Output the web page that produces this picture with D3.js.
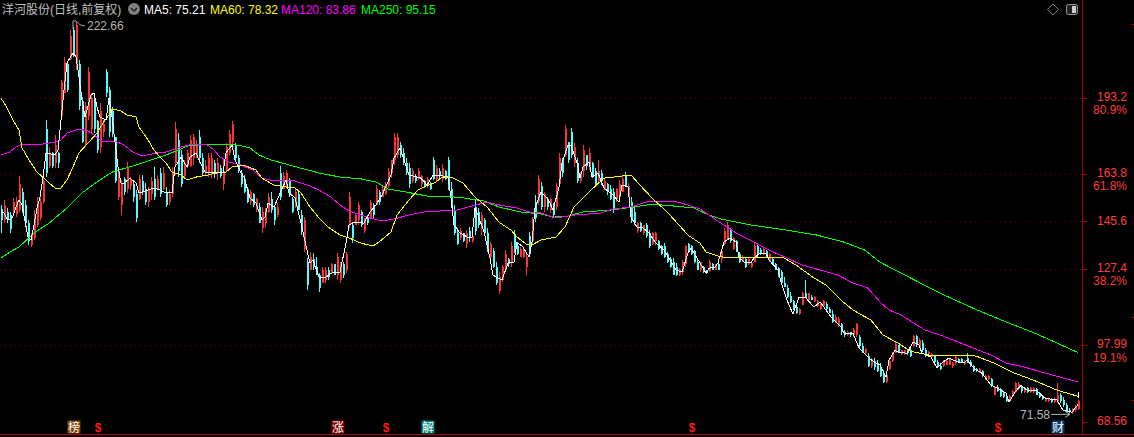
<!DOCTYPE html>
<html>
<head>
<meta charset="utf-8">
<title>洋河股份</title>
<script src="https://cdn.jsdelivr.net/npm/d3@7"></script>
<style>
html, body { margin: 0; padding: 0; background: #000; overflow: hidden; }
svg { display: block; }
text { font-family: "Liberation Sans", "Noto Sans CJK SC", sans-serif; font-size: 12px; }
</style>
</head>
<body>
<div id="chart"></div>
<script>
// daily bars, oldest first
const highs = [
  151.9,153.8,150.7,149.2,154.6,154.9,163,158.4,153.8,146.1,
  139.6,149.9,154.9,154.6,162.6,184.5,174.2,172.2,178.8,172.2,
  199.9,208.8,206.9,219.2,220.3,222.66,207.6,193.4,191.5,204.9,
  194.9,193.4,184.5,191.1,184.5,204.2,197.2,189.5,178,166.5,
  161.5,162.6,168.4,162.6,161.5,157.6,163.4,163.4,160.3,158.8,
  162.6,166.5,163.4,166.1,166.5,158.8,157.6,166.5,183.8,179.5,
  173,169.2,173,178.8,179.2,176.9,180.7,171.9,169.2,171.9,
  171.9,169.2,170,167.2,169.2,175.7,180.7,184.2,175.7,171.1,
  165.3,163.4,158.8,157.6,156.5,154.6,152.6,151.1,150.7,156.5,
  156.9,151.9,152.6,166.9,164.5,165.3,162.2,154.9,158.4,157.6,
  149.9,147.2,131.5,133.8,133.4,131.9,125.7,128,128,128,
  129.6,128.8,133.4,130,130,133.8,156.9,145.3,148.8,153,
  150,146.9,148,153.8,152.6,159.5,157.6,159.5,160.7,166.1,
  169.2,179.5,179.5,176.1,173.8,169.9,168,166.1,163.8,166.1,
  163.4,161.5,162.6,160.7,170.3,167.2,166,167.6,165.3,170.3,
  160.7,151.9,143,143,141.1,142.2,143.4,141.1,153.8,150.7,
  149.2,146.9,143,137.6,135.3,130,126.1,128.8,134.5,131.5,
  137.6,142.2,137.6,135.7,135.3,133.4,141.5,147.2,155.7,163.4,
  160.7,156.9,154.9,154.5,152.6,160.3,171.9,169.9,182.6,176.1,
  181.5,175.7,169.9,164.5,174.9,171.1,173.8,168.4,166.1,169.2,
  165.3,162.2,160.3,159.5,158.4,158.4,161.5,163.4,164.5,160.3,
  154.9,151.1,145.3,145.3,144.2,144.9,142.2,141.5,141.5,138.4,
  136.5,137.2,133.8,131.9,131.5,129.6,127.6,130.7,136.5,137.2,
  136.5,134.5,131.5,130,128.4,126.9,130.7,129.6,129.1,129.9,
  134.5,143,145.3,143,139.6,138.4,133.8,132.6,131.9,131.5,
  129.9,137.2,136.5,135.3,135.3,134.5,133.4,131.9,129.6,128,
  126.9,124.2,121.1,118.4,115.3,113,112.2,118.4,123,118,
  117.2,116.9,115.3,114.2,115.3,114.6,112.6,111.5,109.5,108.8,
  106.5,103.8,103.4,103,104.6,106.5,101.9,98.8,96.9,94.9,
  93,93,92.2,91.1,88.4,87.2,92.2,95.3,99.2,98,
  96.1,96.1,96.1,97.2,101.9,101.9,100.7,99.9,96.9,95.7,
  94.9,94.2,92.2,91.1,92.2,92.2,93,91.5,94.2,93,
  93,92.2,95,92.2,90.3,89.2,89.2,88.4,86.5,86.5,
  85.3,81.9,82.6,81.5,80.3,78.8,78.8,80.7,83.8,83.8,
  82.6,81.5,81.9,81.9,81.9,81.5,80,78.8,78,77.6,
  77.6,77.9,83.4,79.6,78,75.7,73.8,73.8,75,76.9
];
const lows = [
  141.1,144.9,144.9,141.1,148,147.2,149.2,148.8,143.4,136.5,
  135.7,138.4,143.4,146.1,152.6,162.6,166.1,166.1,166.1,166.1,
  184.5,194.9,195.3,207.6,208.8,203.8,188.4,175.7,174.2,184.5,
  179.5,179.5,171.9,171.9,178,193.4,178,178,160.3,153.8,
  148,155.7,156.5,157.6,153,145.3,153.8,155.7,151.9,151.1,
  153.8,153.8,157.6,154.9,157.6,151.1,151.9,154.9,167.2,162.6,
  158.8,162.2,166.1,166.5,167.2,170,168,163.4,163,162.6,
  162.2,162.2,161.5,162.2,157.6,164.5,171.1,174.2,169.2,164.2,
  158.8,156.5,152.6,151.9,151.1,149.2,144.9,141.1,143.4,148.8,
  148.8,144.2,147.2,153.8,158.4,158.4,154.9,148.8,150.7,149.9,
  140.3,133.8,119.2,128,126.9,124.9,118.4,121.9,121.9,123,
  125.7,124.9,123,121.9,123.8,125.7,143,137.2,144.2,144.2,
  143.4,141.1,144.2,146.9,146.9,151.9,151.9,154.9,155.7,158.4,
  162.2,167.2,169.9,169.9,167.2,163.4,158.4,160.3,160.3,161.5,
  158.8,158.4,158.4,157.6,161.5,160.7,162.2,160.7,161.5,157.6,
  150.7,140.3,136.5,138.4,137.6,135.3,137.6,137.2,140.3,143,
  140.3,140.3,133.8,130.7,127.6,121.1,117.6,122.2,126.1,128,
  128,133.4,132.6,131.9,131.5,124.9,131.9,136.5,145.3,151.9,
  149.9,149.2,149.9,148.8,147.2,149.9,159.5,162.6,170.3,168,
  169.9,166.5,160.3,160.3,162.6,165.3,165.3,162.2,158.8,160.3,
  159.5,157.6,155.7,153.8,148.8,153,154.5,156.9,158.8,154.9,
  144.9,144.2,141.1,141.5,140.3,139.2,135.3,136.5,136.5,134.5,
  132.6,131.5,129.6,127.6,124.9,124.5,124.5,124.9,128,133.4,
  132.6,129.6,126.9,126.1,125.7,125.3,126.1,126.9,126.9,126.9,
  129.6,136.5,138.4,137.2,134.5,133.8,129.6,129.9,127.6,128.8,
  127.6,129.9,131.9,132.6,132.6,131.5,129.9,128.8,126.9,124.2,
  121.9,120.3,116.1,114.2,111.5,109.9,109.6,113.4,116.5,115.3,
  115.3,114.6,112.6,111.5,112.6,111.1,110.3,106.5,106.5,104.9,
  101.9,101.1,101.5,101.1,101.1,101.1,96.9,94.9,94.2,89.6,
  89.2,88.4,87.6,85.7,83.4,83.4,88.4,91.5,94.9,94.9,
  94.2,94.2,94.2,93.4,97.2,97.2,96.9,95.3,93.4,94.2,
  93,91.1,89.2,88.4,89.6,90.3,90.3,89.2,90.3,91.1,
  91.1,90.3,91.1,89.6,87.6,87.6,87.2,85.7,84.6,84.6,
  81.9,78.8,80,78,77.6,76.1,76.1,78,79.6,80.7,
  79.6,79.6,79.6,79.6,79.6,78.8,77.6,76.9,76.1,76.1,
  75.7,75.7,75.7,75.7,74.2,72.2,71.9,71.58,72.2,73
];
const opens = [
  150.5,146,149,148,149,148.5,150,157,152,145,
  136.5,139,144,147,153,181,167,172,168,172,
  186,195,206,208,219,204,206,192,175,186,
  181,192,184,174,180,203,196,188,178,155,
  152,162,158,159,160,156,154,161,158,153,
  156,162,158,164,158,157,153,156,168,177,
  171,163,167,167,170,171,178,170,164,164,
  164,168,164,166,160,165,172,176,175,170,
  164,162,158,153,156,150,151,143,145,149,
  154,151,148,164,158,159,161,154,151,156,
  148,135,130,127,131,128,125,122,123,127,
  126,129,125,123,129,127,144,144,144,146,
  149,142,147,147,152,152,157,155,156,159,
  164,169,171,175,172,168,166,161,163,162,
  160,161,159,160,169,162,165,162,165,169,
  158,150,141,139,141,137,142,138,151,149,
  143,146,141,132,134,128,119,123,127,131,
  130,140,136,132,132,128,140,138,153,153,
  159,151,154,150,152,151,160,169,171,176,
  180,168,168,161,165,171,166,168,165,161,
  164,158,160,158,157,154,155,157,163,155,
  153,149,142,145,141,144,141,137,138,138,
  136,136,133,131,130,128,125,126,129,137,
  136,134,130,127,128,127,126.5,129,127,129,
  131,137,139,142,135,138,133,130,131,129,
  128,130,136,134.5,133,134,130.5,131,129,127.5,
  126,122,120,117,115,112.5,110,113.5,118,115.5,
  116.5,115,113,112,113,114,112,110,107,105.5,
  106,103,102,103,102,102,101,97.5,95,94,
  90,92,91,89,87,84,89,92,95,98,
  94.5,94.5,96,96,97.5,101.5,97,99,96,94.5,
  93.5,94,91.5,90,90,90.5,90.5,90,91,92.5,
  92.5,90.8,93,91.5,89.8,89,87.8,88,85,85,
  85,79,82,81,80,78.5,76.5,78.5,80,81,
  82,79.8,81.5,80,80,81,79.5,78.5,76.5,76.5,
  77,76,76,79,77,75,73.2,72.2,73,73.5
];
const closes = [
  146,152,146,142.5,153,153.5,160,150,145,138,
  141,148,153,153,161,164,172,167,175,168,
  199,207,196,217,209,221,190,176,190,203,
  193,181,173,188,183,195,180,179,161,165,
  160,157,166,162,155,147,162,157,153,158,
  161,155,162,156,164,152,156,165,181,165,
  160,168,172,177,178,175,170,164,167,170,
  170,164,168,163,165,174,179,183,170,165,
  160,157,153,157,152,154,145,149,150,155,
  150,146,151,155,163,164,156,149,157,150,
  142,146,121,132,128,125,120,127,127,124,
  129,125,132,128,125,133,155,139,148,152,
  144,147,145,153,148,158,153,158,160,165,
  169,178,178,171,168,164,160,165,161,165,
  163,159,162,158,162,166,163,166,162,158,
  151,141,137,142,138,141,139,140,142,144,
  148,141,135,137,128,122,124,128,133,129,
  136,134,133,135,134,132,133,146,147,162,
  151,156,151,154,148,159,170,164,181,169,
  171,174,161,164,173,167,172,163,160,165,
  161,161,157,154,150,158,160,162,159,159,
  146,145,145,142,144,140,136,141,141,135,
  133,132,130,128,125,125,127,130,136,134,
  133,130,127,130,126,125.6,130,127,129,127,
  134,142,144,138,139,134,130,132,128,131,
  129.5,136,132.5,133,135,132,133,129,127,124.5,
  122,120.5,116.5,114.5,112,110.5,112,118,116,118,
  115.5,116.5,115,114,115,112,110.5,107,109,108,
  103,102,103,101.8,104,106,97.5,95.5,96.5,90,
  92.5,89.5,88,86,84,86.5,92,95,98.5,95.5,
  96,96,95,94,101.5,98,100,96,94,95.5,
  94.5,91.5,89.8,88.8,92,91.8,92.5,91,93.5,91.5,
  91.5,91.8,91.5,90,88,88,89,86,86,86,
  82.5,81.5,80.5,78.5,78,76.5,78.5,80.5,83.5,83,
  80.3,81,80,81.5,81.5,79,78,77.2,77.8,77.5,
  76,77,79,76.5,75,72.8,72.4,73.2,74.5,76.5
];

// moving averages, read at the bars listed beside each
const ma5Bars = [0,1,2,3,4,5,6,7,9,10,11,12,13,14,15,18,19,20,21,22,24,25,26,27,28,30,31,32,33,35,36,37,39,40,41,43,45,46,49,51,53,55,57,58,60,
  62,63,65,66,68,71,74,75,77,78,80,81,83,85,87,88,89,91,94,95,96,98,100,102,103,104,106,108,110,113,115,116,118,
  121,123,125,127,130,131,133,134,136,140,142,144,146,149,150,151,153,156,157,158,159,161,163,164,167,169,171,172,174,176,177,178,
  180,182,183,184,186,187,189,190,192,193,194,196,197,199,201,204,206,207,209,210,212,214,216,218,221,223,225,227,229,230,233,235,236,238,239,
  241,243,245,246,248,250,251,253,255,256,259,260,262,264,266,268,271,273,275,277,280,281,284,286,289,291,293,295,296,298,299,
  302,304,306,307,310,312,314,316,319,321,322,325,327,330,332,335,336,338,340,342,345,348,352,354,357,359];
const ma5 = [149.2,148.8,146.5,146.1,147.6,151.1,153.8,151.9,139.5,138.4,144.2,150.7,154.9,162.6,171.9,171.1,173,184.5,196.1,206.5,210.3,208.8,201.1,192.2,185.7,194.2,194.9,189.5,185.7,184.5,193,185.7,166.5,160.3,160.3,162.2,160.3,156.5,157.6,158.4,157.6,156.5,156.5,166.5,170.3,
  166.5,170.3,171.9,169.2,164.5,164.2,164.5,171.9,174.9,169.2,164.2,162.6,154.6,152.6,146.1,147.2,152.6,151.1,158.8,161.5,156.5,154.6,144.9,134.5,129.5,130.7,124.2,123.8,125.7,126.1,137.2,144.2,145.3,
  144.9,149.2,151.9,155.7,163.4,169.9,173.8,170.3,163.4,162.2,159.5,163.4,163.4,162.6,154.6,144.2,141.1,139.2,139.6,150.7,148,141.5,131.5,124.9,123,129.6,129.9,137.6,135.7,131.9,137.6,150.7,
  156.9,154.6,152.6,149.9,158.8,168,174.9,174.9,168,162.2,166.5,168.4,162.6,164.2,158.4,155.7,153,159.5,158.8,147.2,143.4,143,141.1,137.6,134.5,130.7,126.9,126.1,133.4,135.3,129.6,125.7,127.6,128,129.6,
  137.6,139.2,137.6,131.9,129.6,129.6,131.5,133.4,133.4,130.7,126.9,122.2,115.3,109.9,116.5,116.5,112.6,114.6,111.5,108.4,104.9,102.6,102.6,96.9,93.4,91.5,90.3,85.7,92.2,96.1,95.3,
  94.9,99.2,98,94.9,93.4,89.2,91.5,93,91.5,91.1,92.2,88.4,87.2,82.6,81.5,79.6,76.1,79.9,82.6,80.7,80.7,77.6,76.9,73,72.2,75.21];

const ma60Bars = [0,2,4,6,7,10,12,14,16,18,20,22,24,26,29,32,34,36,37,40,42,45,46,49,51,53,55,57,60,62,65,69,72,75,77,81,85,87,91,95,98,100,103,106,109,113,116,120,
  124,126,130,132,136,139,141,145,147,150,154,158,162,166,170,172,175,177,180,
  185,188,191,196,201,204,207,210,213,217,222,226,229,233,235,240,
  251,261,265,271,275,280,284,290,294,299,303,311,319,325,331,337,344,352,359];
const ma60 = [193,189.2,184.5,180.7,173.8,168,164.5,162.6,160.3,158.4,158.4,161.5,166.5,171.9,175.7,179.5,183.4,186.5,188.8,188,186.5,185.7,181.9,176.9,173,170.3,168,164.5,163.4,161.5,162.6,163.4,164.2,164.5,166.5,167.2,165.3,162.2,159.5,158.8,158.4,156.5,151.1,146.9,143.4,140.3,139.2,137.2,
  136.1,137.6,141.5,148,153.8,157.6,158.8,160.7,162.6,162.6,160.3,154.9,151.1,145.3,142.2,139.6,136.9,136.5,138.4,
  139.6,143.4,151.1,156.9,162.2,162.6,163,163.4,159.5,154.6,149.2,144.2,140.3,137.2,133.8,131.9,
  131.5,131.5,128.8,123.8,121.1,115.3,111.5,107.6,101.9,98.8,95.7,93.8,94.2,93.8,91.1,87.6,84.6,80.7,78.32];

const ma120Bars = [0,3,5,7,14,18,20,22,26,29,31,34,38,41,44,47,52,55,60,64,69,71,73,76,80,84,87,91,98,103,106,110,113,116,120,
  123,127,131,136,141,147,152,157,162,166,172,176,180,
  185,191,200,204,210,215,221,224,229,233,236,240,
  245,251,256,262,267,273,279,284,289,293,296,300,308,313,319,324,330,335,341,347,353,359];
const ma120 = [171.1,172.2,174.2,175.3,175.3,176.1,176.9,179.5,181.1,180.3,178.8,176.1,176.5,174.9,172.2,170.7,171.9,172.2,174.2,175.3,174.9,173,170.3,168.4,167.2,165.3,162.2,161.1,161.1,159.2,157.6,154.9,151.9,149.6,148,
  146.9,145.7,146.5,148,149.2,149.6,149.9,151.5,153,151.9,150.7,149.2,148.8,
  146.9,148,148.8,150.3,151.1,153,153.4,153.4,151.9,150.3,148,144.9,
  141.1,137.6,134.5,131.5,128.8,126.9,124.9,121.9,119.9,114.6,111.5,109.6,103.8,101.9,99.2,96.9,94.2,91.1,89.6,87.6,85.7,83.86];

const ma250Bars = [0,3,6,11,16,22,27,32,37,44,50,55,60,62,69,79,83,86,90,95,101,106,113,120,
  125,129,135,142,148,154,161,166,173,180,
  184,189,194,203,211,217,224,231,236,240,
  250,262,272,281,288,293,300,313,324,335,342,346,352,359];
const ma250 = [131.5,133.8,135.7,141.1,144.9,150.7,156.5,160.7,164.5,166.9,169.2,171.1,173.4,174.5,175.3,174.9,173.8,171.1,169.2,167.6,165.7,164.2,162.6,161.9,
  160.7,158,156.9,155.3,155.3,154.6,153.4,151.1,149.2,148.4,
  147.2,147.6,149.2,149.9,151.1,152.2,151.5,150.7,148,146.5,
  144.2,142.2,140.3,137.6,134.5,129.9,125.7,118,112.2,106.9,103.8,101.9,98.8,95.15];

const maNames = ["MA5", "MA60", "MA120", "MA250"];
const maLast = ["75.21", "78.32", "83.86", "95.15"];
// white stub at the end of the last bar
const lastStub = [77.6, 79.9];

const tickValues = [193.2, 163.8, 145.6, 127.4, 97.99, 68.56];
const tickLabels = ["193.2", "163.8", "145.6", "127.4", "97.99", "68.56"];
const gridValues = [193.2, 163.8, 145.6, 127.4, 97.99];
const goldValues = [193.2, 163.8, 127.4, 97.99];
const goldLabels = ["80.9%", "61.8%", "38.2%", "19.1%"];
const edgeTicks = [221.5, 108.8, 76.9];

const markerBars = [24, 32, 112, 128, 142, 230, 332, 352];
const markerTexts = ["榜", "$", "涨", "$", "解", "$", "$", "财"];
const markerFills = ["#804000", null, "#800000", null, "#008080", null, null, "#0a3a70"];

const maxBar = 25, maxValue = 222.66;
const minBar = 357, minValue = 71.58;

const width = 1134, height = 437;
const axisX = 1082, bottomY = 434;
const upColor = "#ff3232", downColor = "#54fcfc", axisColor = "#b00000", labelColor = "#ff3c3c", noteColor = "#b4b4b4";
const maColors = ["#ffffff", "#ffff00", "#ff00ff", "#00ff00"];

const x = d3.scaleLinear().domain([0, 359]).range([1, 1078]);
const y = d3.scaleLinear().domain([68.56, 193.2]).range([421.7, 97.5]);

const svg = d3.select("#chart").append("svg")
    .attr("width", width)
    .attr("height", height)
    .style("background", "#000");

// dotted price levels
svg.append("g").attr("shape-rendering", "crispEdges").selectAll("line")
    .data(gridValues)
    .join("line")
    .attr("x1", 0)
    .attr("x2", axisX)
    .attr("y1", d => Math.round(y(d)) + 0.5)
    .attr("y2", d => Math.round(y(d)) + 0.5)
    .attr("stroke", "#800000")
    .attr("stroke-dasharray", "1,4");

// candles
const candles = svg.append("g").attr("shape-rendering", "crispEdges")
    .selectAll("g")
    .data(d3.range(closes.length))
    .join("g")
    .attr("stroke", i => closes[i] >= opens[i] ? upColor : downColor)
    .attr("fill", i => closes[i] >= opens[i] ? upColor : downColor);

candles.append("line")
    .attr("x1", i => x(i) + 0.5)
    .attr("x2", i => x(i) + 0.5)
    .attr("y1", i => y(highs[i]))
    .attr("y2", i => y(lows[i]));

candles.append("rect")
    .attr("stroke", "none")
    .attr("x", i => x(i) - 0.5)
    .attr("width", 2)
    .attr("y", i => y(Math.max(opens[i], closes[i])))
    .attr("height", i => Math.max(1, Math.abs(y(opens[i]) - y(closes[i]))));

// moving averages, long ones first
const maLine = d3.line().x(d => x(d[0])).y(d => y(d[1]));
[[ma250Bars, ma250, 3], [ma120Bars, ma120, 2], [ma60Bars, ma60, 1], [ma5Bars, ma5, 0]].forEach(([bars, vals, k]) => {
    svg.append("path")
        .attr("d", maLine(d3.zip(bars, vals)))
        .attr("fill", "none")
        .attr("stroke", maColors[k])
        .attr("stroke-width", 1)
        .attr("shape-rendering", "crispEdges");
});

svg.append("line")
    .attr("x1", x(359) + 0.5).attr("x2", x(359) + 0.5)
    .attr("y1", y(lastStub[0])).attr("y2", y(lastStub[1]))
    .attr("stroke", "#fff")
    .attr("shape-rendering", "crispEdges");

// right axis
svg.append("line")
    .attr("x1", axisX + 0.5).attr("x2", axisX + 0.5)
    .attr("y1", 0).attr("y2", bottomY)
    .attr("stroke", axisColor);
svg.append("line")
    .attr("x1", 0).attr("x2", width)
    .attr("y1", bottomY + 0.5).attr("y2", bottomY + 0.5)
    .attr("stroke", axisColor);

const axis = svg.append("g")
    .attr("transform", `translate(${axisX},0)`)
    .call(d3.axisRight(y).tickValues(tickValues).tickFormat((d, i) => tickLabels[i]).tickSize(5));
axis.select(".domain").remove();
axis.selectAll(".tick line").attr("stroke", axisColor).attr("shape-rendering", "crispEdges");
axis.selectAll(".tick text")
    .attr("x", 45)
    .attr("y", -1)
    .attr("text-anchor", "end")
    .attr("fill", labelColor)
    .style("font-family", null)
    .style("font-size", "12px");

svg.append("g").selectAll("text")
    .data(goldValues)
    .join("text")
    .attr("x", axisX + 45)
    .attr("y", d => y(d) + 16.5)
    .attr("text-anchor", "end")
    .attr("fill", labelColor)
    .text((d, i) => goldLabels[i]);

svg.append("g").attr("shape-rendering", "crispEdges").selectAll("line")
    .data(edgeTicks)
    .join("line")
    .attr("x1", 1132).attr("x2", 1134)
    .attr("y1", d => Math.round(y(d)) + 0.5)
    .attr("y2", d => Math.round(y(d)) + 0.5)
    .attr("stroke", axisColor);

// high and low notes
const hx = x(maxBar) - 3, hy = y(maxValue);
svg.append("path")
    .attr("d", `M${hx},${hy + 8} V${hy} H${hx + 3} M${hx + 3},${hy} L${hx + 7},${hy + 4} L${hx + 12},${hy + 5}`)
    .attr("fill", "none")
    .attr("stroke", noteColor)
    .attr("stroke-width", 0.9);
svg.append("text")
    .attr("x", hx + 14)
    .attr("y", hy + 9)
    .attr("fill", noteColor)
    .text(maxValue.toFixed(2));

const lx = x(minBar) - 2, ly = y(minValue) + 0.5;
svg.append("path")
    .attr("d", `M${lx - 19},${ly} H${lx} M${lx - 5},${ly - 3} L${lx},${ly} L${lx - 5},${ly + 3}`)
    .attr("fill", "none")
    .attr("stroke", noteColor);
svg.append("text")
    .attr("x", lx - 20)
    .attr("y", ly + 5)
    .attr("text-anchor", "end")
    .attr("fill", noteColor)
    .text(minValue.toFixed(2));

// event markers along the bottom
const markers = svg.append("g").selectAll("g")
    .data(markerTexts)
    .join("g")
    .attr("transform", (d, i) => `translate(${x(markerBars[i]) + 1},427)`);
markers.filter((d, i) => markerFills[i])
    .append("rect")
    .attr("x", -6.5).attr("y", -6.5)
    .attr("width", 13).attr("height", 13)
    .attr("fill", (d) => markerFills[markerTexts.indexOf(d)]);
markers.append("text")
    .attr("text-anchor", "middle")
    .attr("y", 4.5)
    .attr("fill", d => d === "$" ? "#ff1a1a" : "#fff")
    .style("font-weight", d => d === "$" ? "bold" : "normal")
    .text(d => d);

// title row
svg.append("text")
    .attr("x", 2).attr("y", 14)
    .attr("fill", "#c0c0c0")
    .attr("font-size", "12px")
    .text("洋河股份(日线,前复权)");

const menu = svg.append("g").attr("transform", "translate(134,9)");
menu.append("circle").attr("r", 6).attr("fill", "#808080");
menu.append("path").attr("d", "M-3,-1 L0,2 L3,-1").attr("fill", "none").attr("stroke", "#222").attr("stroke-width", 1.5);

const maX = [144, 210, 281, 361];
svg.append("g").selectAll("text")
    .data(maNames)
    .join("text")
    .attr("x", (d, i) => maX[i])
    .attr("y", 14)
    .attr("fill", (d, i) => maColors[i])
    .text((d, i) => `${d}: ${maLast[i]}`);

// corner icons
svg.append("path")
    .attr("d", "M1053,4 L1058.5,9.5 L1053,15 L1047.5,9.5 Z")
    .attr("fill", "none")
    .attr("stroke", "#808080");
svg.append("rect")
    .attr("x", 1066.5).attr("y", 4.5)
    .attr("width", 11).attr("height", 10)
    .attr("rx", 2)
    .attr("fill", "#222")
    .attr("stroke", "#999");
svg.append("rect")
    .attr("x", 1072).attr("y", 6)
    .attr("width", 4).attr("height", 7)
    .attr("fill", "#ccc");
</script>
</body>
</html>
